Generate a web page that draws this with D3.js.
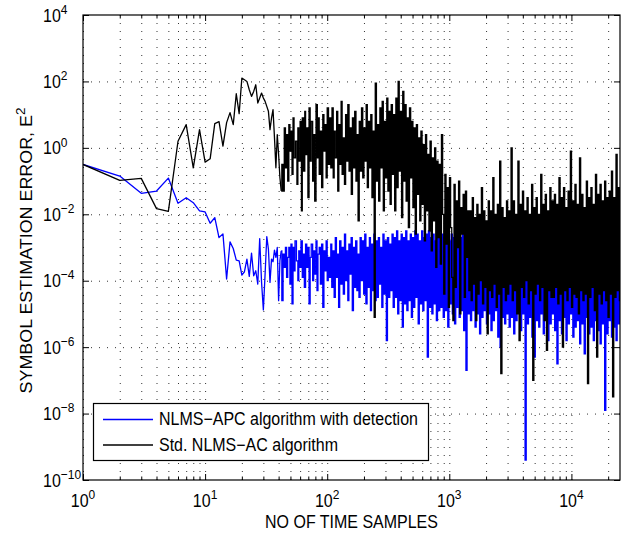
<!DOCTYPE html>
<html>
<head>
<meta charset="utf-8">
<script src="https://d3js.org/d3.v7.min.js"></script>
<style>
  body { margin: 0; background: #fff; }
  text { font-family: "Liberation Sans", Arial, Helvetica, sans-serif; fill: #000; }
  .grid line { stroke: #333; stroke-width: 1; stroke-dasharray: 1,7; }
  .grid .domain { display: none; }
  .ticks line { stroke: #000; }
  .ticks .domain { display: none; }
</style>
</head>
<body>
<svg id="chart"></svg>
<script>
const WIDTH  = 632;
const HEIGHT = 535;
const MARGIN = { top: 15, right: 12, bottom: 55, left: 83 };
const INNER_WIDTH  = WIDTH - MARGIN.left - MARGIN.right;
const INNER_HEIGHT = HEIGHT - MARGIN.top - MARGIN.bottom;
const TEXT_STRETCH = 1.12;   // the figure was stretched vertically
const LINE_W = 1.3;

// values are log10 of the squared error
// first 41 samples (n = 1..41), one value per sample
const apcHead = [-0.50, -0.85, -1.37, -1.30, -0.91, -1.67, -1.50, -1.65, -1.90, -1.93,
  -2.27, -2.10, -2.70, -2.59, -3.95, -2.83, -3.03, -3.38, -3.40, -3.83,
  -3.73, -3.35, -3.87, -3.17, -3.85, -3.70, -4.10, -2.73, -4.05, -4.88,
  -3.80, -2.67, -3.05, -4.05, -3.35, -3.43, -3.08, -3.30, -3.00, -4.60, -3.40];

const acHead = [-0.50, -0.98, -0.92, -1.83, -1.91, 0.20, 0.70, -0.60, 0.55, -0.43,
  -0.33, 0.73, 0.79, 0.05, 0.76, 1.06, 0.70, 1.63, 1.03, 2.10,
  2.05, 2.00, 1.75, 1.55, 1.70, 1.90, 1.35, 1.50, 1.65, 1.50,
  1.40, 1.25, 1.10, 0.55, 0.90, 1.15, 0.30, -0.60, 0.40, -0.20, -0.90];

// rest of the run (n = 42..25000), decimated samples
const apcTail = [
  -3.1, -4.6, -3.2, -3.6, -3.0, -3.9, -3.3, -3.0, -4.1, -2.9, -4.7, -3.0, -3.7, -2.8, -3.4, -4.0, -3.1, -3.6,
  -2.8, -3.9, -3.2, -4.2, -2.9, -3.6, -3.0, -4.7, -3.3, -2.9, -4.0, -3.1, -3.8, -2.8, -4.3, -3.2, -3.0, -4.1, -2.9, -4.8, -3.1, -3.7, -2.8, -4.0, -3.3, -3.9,
  -2.9, -4.2, -3.1, -4.5, -2.7, -3.9, -3.2, -4.8, -2.8, -4.1, -3.0, -4.4, -2.6, -4.0, -3.1, -4.6, -2.9, -3.8, -2.7, -4.9, -3.0, -4.2, -2.8, -4.3, -3.2, -4.5, -2.7, -4.0,
  -2.8, -4.4, -2.6, -4.7, -3.0, -4.2, -2.7, -4.9, -2.9, -4.3, -2.6, -4.6, -2.8, -4.5, -2.7, -4.1, -3.0, -4.8, -2.6, -4.4, -2.8, -5.8, -2.7, -4.5, -2.9, -4.3,
  -2.6, -4.8, -2.7, -4.5, -2.5, -5.0, -2.8, -4.6, -2.6, -5.4, -2.7, -4.7, -2.5, -4.9, -2.8, -4.6, -2.6, -5.1, -2.7, -4.8, -2.5, -4.5, -2.6, -5.3, -2.8, -4.7, -2.5, -4.9, -2.7, -4.6, -2.6, -6.3, -2.5, -4.8, -2.7, -5.0, -2.6, -4.7, -2.8, -5.2, -2.6, -4.9, -2.5,
  -4.8, -2.6, -5.1, -2.7, -4.9, -2.5, -5.4, -2.8, -4.7, -2.6, -5.0, -2.7, -5.3, -2.6, -4.8, -2.9, -5.1, -2.7, -4.9, -2.6, -5.5, -2.8, -6.7, -2.7, -5.0, -2.9,
  -5.2, -3.0, -4.9, -2.8, -5.4, -3.1, -5.0, -2.9, -5.6, -3.0, -5.1, -2.8, -4.9, -3.2, -5.3, -2.9, -5.0, -3.0, -5.5, -2.8, -5.2, -3.1, -4.9, -2.9, -5.7, -3.0, -6.0, -2.8, -5.1, -3.1, -5.3, -2.9, -5.0,
  -3.0, -5.4, -2.8, -5.1, -3.1, -5.6, -2.9, -5.2, -3.0, -4.9, -2.8, -5.5, -3.1, -5.0, -2.9, -9.4, -3.0, -5.3, -2.8, -5.1, -3.2, -5.7, -2.9, -6.3, -3.0, -5.2, -2.8, -5.4, -3.1, -5.0, -2.9, -5.6, -3.0, -5.1, -2.8, -5.8, -3.1, -5.3, -2.9, -5.0,
  -3.0, -5.5, -2.8, -6.5, -3.1, -5.2, -2.9, -5.6, -3.0, -5.1, -2.8, -5.8, -3.2, -5.3, -2.9, -5.0, -3.0, -5.7, -2.8, -5.4, -3.1, -5.2, -2.9, -5.9, -3.0, -5.3, -2.8, -6.2, -3.1, -5.1, -2.9, -5.6, -3.0, -5.4, -2.8, -5.8, -3.1, -5.2, -2.9, -5.5, -3.0, -5.9, -2.8, -5.3, -3.1, -7.9, -2.9, -5.6, -3.0, -5.2, -2.8, -5.7, -3.1, -5.4, -2.9, -5.8, -3.0, -5.3, -2.9
];

const acTail = [
  -1.3, -0.5, -1.3, 0.6, -0.6, 0.4, -1.0, 0.7, -0.1, 0.5, -0.8, 0.9, -0.3, 0.2, -1.1, 0.6, -0.4, 0.8,
  -1.9, 0.9, -0.7, 1.1, -0.2, 0.6, -1.5, 1.2, -0.4, 0.8, -1.0, 0.4, -1.6, 1.3, -0.3, 0.9, -0.8, 0.5, -1.2, 1.0, -0.1, 0.7, -0.9, 1.2, -0.5,
  0.9, -0.6, 1.2, -0.9, 0.5, -0.3, 1.1, -1.3, 0.7, -0.5, 1.4, -0.8, 0.3, -1.1, 1.0, -0.4, 1.3, -0.7, 0.6, -1.4, 0.9, -0.6, 1.1, -1.0, 0.4, -2.2, 0.8, -0.7,
  1.2, -0.9, 0.6, -0.4, 1.3, -1.2, 0.8, -0.6, 1.0, -1.5, 0.5, -5.1,
  1.95, -1.0, 0.7, -1.6, 1.2, -0.6, 1.4, -1.9, 0.8, -0.9, 1.5, -1.3, 1.1,
  -1.7, 1.3, -0.8, 1.0, -1.9, 1.5, -1.2, 2.0, -0.7, 1.1, -2.1, 1.7, -1.0, 1.3, -1.6, 0.9, -2.4, 1.2, -0.9, 0.8, -1.8, 0.6, -2.6, 0.7, -1.4, 0.3, -2.2, 0.5, -1.7, 0.1, -2.8, 0.4, -1.9, -0.2, -2.5, 0.2, -3.1, -0.3, -2.2, 0.0, -3.6, -0.4, -2.7,
  -0.5, -3.5, 0.4, -2.0, -4.4, -0.8, -2.9, -1.2, -4.8, -0.9, -2.4, -3.9, -5.2, -1.1, -4.2, -1.6, -3.0, -1.0, -5.0, -1.8, -2.6, -1.4, -4.5, -1.3, -3.3, -1.9,
  -4.3, -1.9, -4.6, -1.5, -4.1, -2.1, -5.2, -1.7, -4.4, -2.0, -4.0, -1.2, -4.7, -1.9, -4.2, -2.2, -5.6, -1.6, -4.3, -1.9, -4.5, -0.9, -4.1, -2.0, -4.8, -1.7, -4.4, -0.4, -6.8, -1.8, -4.2, -2.1, -4.6, -1.6,
  -4.4, -1.9, -4.1, 0.0, -4.6, -1.6, -4.3, -2.0, -5.0, -0.4, -5.8, -1.7, -4.2, -1.3, -4.5, -1.9, -4.0, -1.5, -4.7, -2.0, -4.3, -1.1, -7.0, -1.8, -4.4, -1.5, -4.1, -2.0, -4.6, -0.8, -4.2, -1.7, -5.2, -1.4, -6.1, -1.9, -4.3, -1.2, -4.5, -1.6,
  -4.5, -1.4, -4.2, -1.7, -4.7, -0.9, -4.4, -1.5, -6.0, -1.2, -4.3, -1.8, -4.6, -1.3, -4.2, -0.1, -4.8, -1.6, -4.4, -1.1, -4.5, -1.7, -5.0, -0.3, -4.3, -1.4, -4.6, -1.8, -4.4, -1.0, -7.1, -1.5, -4.5, -1.2, -4.2, -1.7, -4.9, -0.8, -6.3, -1.4, -4.4, -1.1, -4.7, -1.6, -4.3, -1.0, -4.6, -1.5, -5.1, -1.3, -4.4, -0.7, -7.5, -1.5, -4.5, -0.2, -4.3, -1.2, -4.6
];

const N_FIRST_TAIL = 42;
const N_LAST       = 25000;

const xTickExps = [0, 1, 2, 3, 4];
const yTickExps = [-10, -8, -6, -4, -2, 0, 2, 4];

const seriesNames = ['NLMS\u2212APC algorithm with detection', 'Std. NLMS\u2212AC algorithm'];
const seriesColors = ['#0000ff', '#000000'];

// the tail is stored decimated: sample indices are spread evenly on the log axis
function tailIndex(i, count) {
  return Math.round(N_FIRST_TAIL * Math.pow(N_LAST / N_FIRST_TAIL, i / (count - 1)));
}

function headPoints(head) {
  return head.map((e, i) => [i + 1, Math.pow(10, e)]);
}
function tailPoints(tail) {
  return tail.map((e, i) => [tailIndex(i, tail.length), Math.pow(10, e)]);
}

const series = [
  { head: headPoints(apcHead), tail: tailPoints(apcTail), color: seriesColors[0] },
  { head: headPoints(acHead),  tail: tailPoints(acTail),  color: seriesColors[1] }
];

const svg = d3.select('#chart')
  .attr('width', WIDTH)
  .attr('height', HEIGHT);

const x = d3.scaleLog()
  .domain([1, N_LAST])
  .range([MARGIN.left, MARGIN.left + INNER_WIDTH]);

const y = d3.scaleLog()
  .domain([1e-10, 1e4])
  .range([MARGIN.top + INNER_HEIGHT, MARGIN.top]);

const xAll   = x.ticks();
const xMajor = xTickExps.map(k => Math.pow(10, k));
const xMinor = xAll.filter(v => xMajor.indexOf(v) < 0);
const yMajor = yTickExps.map(k => Math.pow(10, k));

// grid
svg.append('g')
  .attr('class', 'grid')
  .attr('transform', 'translate(0,' + (MARGIN.top + INNER_HEIGHT) + ')')
  .call(d3.axisBottom(x).tickValues(xAll).tickSize(-INNER_HEIGHT).tickFormat(''));

svg.append('g')
  .attr('class', 'grid')
  .attr('transform', 'translate(' + MARGIN.left + ',0)')
  .call(d3.axisLeft(y).tickValues(yMajor.slice(1, -1)).tickSize(-INNER_WIDTH).tickFormat(''));

// lines
svg.append('clipPath')
  .attr('id', 'plotclip')
  .append('rect')
    .attr('x', MARGIN.left)
    .attr('y', MARGIN.top)
    .attr('width', INNER_WIDTH)
    .attr('height', INNER_HEIGHT);

const line = d3.line()
  .x(d => x(d[0]))
  .y(d => y(d[1]));

// the decimated tail is drawn as min/max columns, like a plot of every sample
const denseLine = d3.line()
  .curve(d3.curveStep)
  .x(d => x(d[0]))
  .y(d => y(d[1]));

const plot = svg.append('g').attr('clip-path', 'url(#plotclip)');

series.forEach(s => {
  plot.append('path')
    .datum(s.head.concat([s.tail[0]]))
    .attr('d', line)
    .attr('fill', 'none')
    .attr('stroke', s.color)
    .attr('stroke-width', LINE_W)
    .attr('stroke-linejoin', 'round');
  plot.append('path')
    .datum(s.tail)
    .attr('d', denseLine)
    .attr('fill', 'none')
    .attr('stroke', s.color)
    .attr('stroke-width', LINE_W)
    .attr('stroke-linejoin', 'miter');
});

// ticks (inward, on all four sides)
function tickAxis(axisFn, scale, values, size, tx, ty) {
  svg.append('g')
    .attr('class', 'ticks')
    .attr('transform', 'translate(' + tx + ',' + ty + ')')
    .call(axisFn(scale).tickValues(values).tickSize(size).tickFormat(''));
}
const bottomY = MARGIN.top + INNER_HEIGHT;
const rightX  = MARGIN.left + INNER_WIDTH;
tickAxis(d3.axisBottom, x, xMajor, -6, 0, bottomY);
tickAxis(d3.axisBottom, x, xMinor, -3.5, 0, bottomY);
tickAxis(d3.axisTop, x, xMajor, -6, 0, MARGIN.top);
tickAxis(d3.axisTop, x, xMinor, -3.5, 0, MARGIN.top);
tickAxis(d3.axisLeft, y, yMajor, -6, MARGIN.left, 0);
tickAxis(d3.axisRight, y, yMajor, -6, rightX, 0);

svg.append('rect')
  .attr('x', MARGIN.left)
  .attr('y', MARGIN.top)
  .attr('width', INNER_WIDTH)
  .attr('height', INNER_HEIGHT)
  .attr('fill', 'none')
  .attr('stroke', '#000')
  .attr('stroke-width', 1.2);

// tick labels: 10^k
function powerLabel(tx, ty, k, anchor) {
  const t = svg.append('text')
    .attr('transform', 'translate(' + tx + ',' + ty + ') scale(1,' + TEXT_STRETCH + ')')
    .attr('text-anchor', anchor)
    .style('font-size', '16px');
  t.append('tspan').text('10');
  t.append('tspan')
    .attr('dy', -7)
    .style('font-size', '12px')
    .text(String(k).replace('-', '\u2212'));
}

xTickExps.forEach(k => powerLabel(x(Math.pow(10, k)), bottomY + 27, k, 'middle'));
yTickExps.forEach(k => powerLabel(43, y(Math.pow(10, k)) + 6.5, k, 'start'));

// axis titles
svg.append('text')
  .attr('transform', 'translate(' + (MARGIN.left + INNER_WIDTH / 2) + ',528) scale(1,' + TEXT_STRETCH + ')')
  .attr('text-anchor', 'middle')
  .style('font-size', '16px')
  .text('NO OF TIME SAMPLES');

const yTitle = svg.append('text')
  .attr('transform', 'translate(32,' + (MARGIN.top + INNER_HEIGHT / 2 + 3) + ') scale(1,' + TEXT_STRETCH + ') rotate(-90)')
  .attr('text-anchor', 'middle')
  .style('font-size', '16px');
yTitle.append('tspan').text('SYMBOL ESTIMATION ERROR, E');
yTitle.append('tspan').attr('dy', -7).style('font-size', '12px').text('2');

// legend
const legend = svg.append('g');
legend.append('rect')
  .attr('x', 93.5)
  .attr('y', 403.5)
  .attr('width', 335)
  .attr('height', 57)
  .attr('fill', '#fff')
  .attr('stroke', '#000')
  .attr('stroke-width', 1.2);

seriesNames.forEach((name, i) => {
  const ly = 419.5 + i * 25.5;
  legend.append('line')
    .attr('x1', 103)
    .attr('x2', 153)
    .attr('y1', ly)
    .attr('y2', ly)
    .style('stroke', seriesColors[i])
    .style('stroke-width', 1.3);
  legend.append('text')
    .attr('transform', 'translate(159,' + (ly + 5.5) + ') scale(1,' + TEXT_STRETCH + ')')
    .style('font-size', '16px')
    .text(name);
});
</script>
</body>
</html>
